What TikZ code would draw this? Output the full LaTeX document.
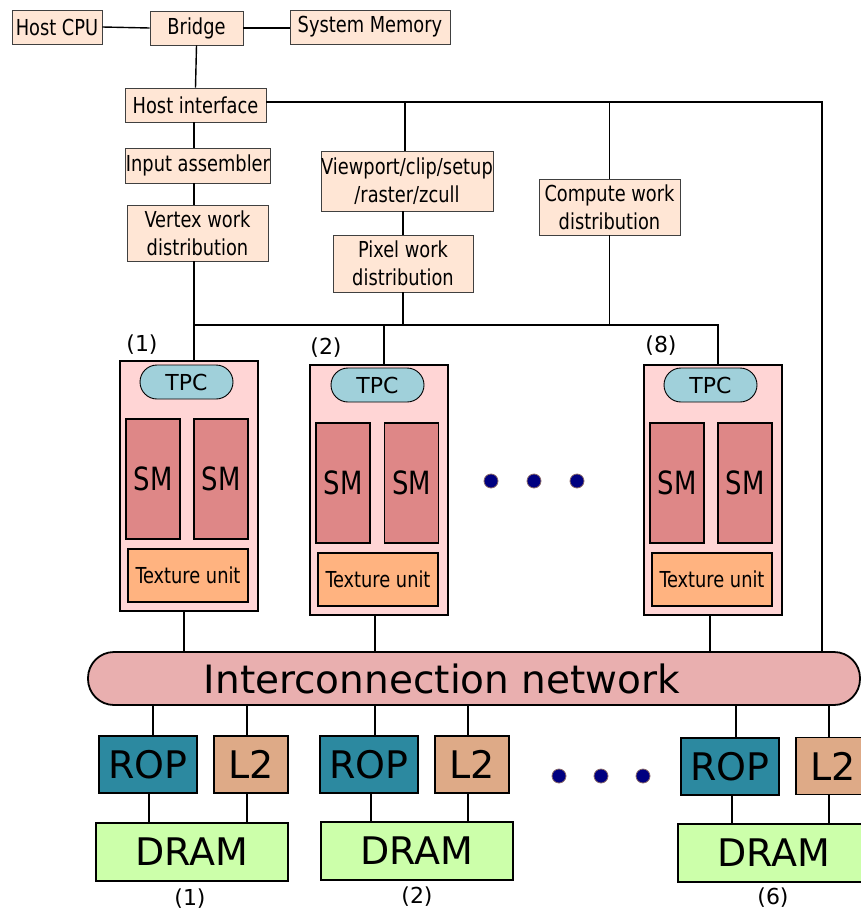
\documentclass[tikz,border=0pt]{standalone}
\usepackage{fontspec}
\setmainfont{DejaVu Sans}
\newfontfamily\cond[FakeStretch=0.9]{DejaVu Sans Condensed}
\definecolor{peach}{HTML}{FFE6D5}
\definecolor{blkfill}{HTML}{FFD5D5}
\definecolor{tpcfill}{HTML}{A0D0DA}
\definecolor{smfill}{HTML}{DE8787}
\definecolor{texfill}{HTML}{FFB380}
\definecolor{icnfill}{HTML}{E9AFAF}
\definecolor{ropfill}{HTML}{2C89A0}
\definecolor{l2fill}{HTML}{DEAA87}
\definecolor{dramfill}{HTML}{CCFFAA}
\definecolor{dotfill}{HTML}{000080}
\definecolor{dotedge}{HTML}{8A6A6A}
\begin{document}
\begin{tikzpicture}[x=1pt,y=-1pt,
  pbox/.style={draw=black!75, line width=0.9pt, fill=peach, inner sep=0pt, align=center,
    font=\cond\fontsize{22}{28}\selectfont},
  blkbox/.style={draw=black, line width=1.8pt, fill=blkfill, minimum width=138, minimum height=250, inner sep=0pt},
  tpcbox/.style={draw=black, line width=0.9pt, fill=tpcfill, rounded corners=17pt, minimum width=93, minimum height=34, inner sep=0pt,
    font=\fontsize{22}{22}\selectfont},
  smbox/.style={draw=black, line width=1.6pt, fill=smfill, minimum width=54, minimum height=120, inner sep=0pt,
    font=\cond\fontsize{32}{32}\selectfont},
  texbox/.style={draw=black, line width=1.6pt, fill=texfill, minimum width=120, minimum height=53, inner sep=0pt,
    font=\cond\fontsize{22}{22}\selectfont},
  ropbox/.style={draw=black, line width=1.6pt, fill=ropfill, minimum width=98, minimum height=57, inner sep=0pt,
    font=\fontsize{38}{38}\selectfont},
  ltwobox/.style={draw=black, line width=1.6pt, fill=l2fill, minimum width=74, minimum height=57, inner sep=0pt,
    font=\fontsize{38}{38}\selectfont},
  drambox/.style={draw=black, line width=2.2pt, fill=dramfill, minimum width=192, minimum height=58, inner sep=0pt,
    font=\fontsize{38}{38}\selectfont},
  numlbl/.style={inner sep=0pt, font=\fontsize{22}{22}\selectfont},
  dotnode/.style={circle, fill=dotfill, draw=dotedge, line width=0.8pt, minimum size=14, inner sep=0pt},
  conn/.style={line width=1.4pt}
]
\useasboundingbox (0,0) rectangle (861,913);

% top boxes
\node[pbox, minimum width=90, minimum height=34] (cpu) at (57,27) {Host CPU};
\node[pbox, minimum width=93, minimum height=34] (bridge) at (196.5,28) {Bridge};
\node[pbox, minimum width=160, minimum height=34] (sysmem) at (370,27) {System Memory};
\node[pbox, minimum width=141, minimum height=34] (hi) at (195.5,105) {Host interface};
\node[pbox, minimum width=140, minimum height=35] (ia) at (198,165.5) {Input assembler};
\node[pbox, minimum width=141, minimum height=56] (vwd) at (197.5,233) {Vertex work\\distribution};
\node[pbox, minimum width=172, minimum height=60] (vp) at (407,181) {Viewport/clip/setup\\/raster/zcull};
\node[pbox, minimum width=140, minimum height=57] (pwd) at (403,263.5) {Pixel work\\distribution};
\node[pbox, minimum width=141, minimum height=56] (cwd) at (609.5,207) {Compute work\\distribution};

% TPC blocks
\node[blkbox] (blk1) at (189,486) {};
\node[tpcbox] (tpc1) at (186.5,382) {TPC};
\node[smbox] (sm11) at (153,479) {SM};
\node[smbox] (sm12) at (221,479) {SM};
\node[texbox] (tex1) at (188,575.5) {Texture unit};

\node[blkbox] (blk2) at (379,490) {};
\node[tpcbox] (tpc2) at (377.5,385) {TPC};
\node[smbox] (sm21) at (343,483) {SM};
\node[smbox] (sm22) at (411.5,483) {SM};
\node[texbox] (tex2) at (378,579.5) {Texture unit};

\node[blkbox] (blk8) at (713,490) {};
\node[tpcbox] (tpc8) at (710.5,385) {TPC};
\node[smbox] (sm81) at (677,483) {SM};
\node[smbox] (sm82) at (745,483) {SM};
\node[texbox] (tex8) at (712,579.5) {Texture unit};

\node[numlbl] (n1) at (142,345) {(1)};
\node[numlbl] (n2) at (326,348) {(2)};
\node[numlbl] (n8) at (661,346) {(8)};

\node[dotnode] (da) at (491,481) {};
\node[dotnode] (db) at (534,481) {};
\node[dotnode] (dc) at (577,481) {};

% interconnect
\node[draw=black, line width=1.8pt, fill=icnfill, rounded corners=26pt, minimum width=772, minimum height=53, inner sep=0pt,
  label={[xshift=-32pt, font=\fontsize{39}{39}\selectfont]center:Interconnection network}] (icn) at (474,678.5) {};

% memory partitions
\node[ropbox] (rop1) at (148,764.5) {ROP};
\node[ltwobox] (l21) at (251,764.5) {L2};
\node[drambox] (dram1) at (192,852) {DRAM};
\node[ropbox] (rop2) at (369,764.5) {ROP};
\node[ltwobox] (l22) at (472,764.5) {L2};
\node[drambox] (dram2) at (417,851) {DRAM};
\node[ropbox] (rop6) at (730,766.5) {ROP};
\node[ltwobox] (l26) at (833,766) {L2};
\node[drambox] (dram6) at (774,853) {DRAM};

\node[numlbl] (m1) at (190,899) {(1)};
\node[numlbl] (m2) at (417,897) {(2)};
\node[numlbl] (m6) at (773,898) {(6)};

\node[dotnode] (de) at (559,776) {};
\node[dotnode] (df) at (601,776) {};
\node[dotnode] (dg) at (643,776) {};

% connectors
\coordinate (hr) at (822,0);
\coordinate (bus) at (0,325);
\coordinate (vx) at (194,0);
\coordinate (hiE) at ([yshift=3pt]hi.east);
\coordinate (vpN) at ([xshift=-2pt]vp.north);
\coordinate (t2) at ([xshift=5pt]blk2.north);
\coordinate (t8) at ([xshift=5pt]blk8.north);
\draw[conn] (cpu.east) -- (bridge.west);
\draw[conn] (bridge.east) -- (bridge.east -| sysmem.west);
\draw[conn] (bridge.south) -- (hi.north);
\draw[conn] (hiE) -- (hiE -| hr) -- (hr |- icn.north);
\draw[conn] (vpN |- hiE) -- (vpN);
\draw[conn] (cwd.north |- hiE) -- (cwd.north);
\draw[conn] (hi.south -| vx) -- (ia.north -| vx);
\draw[conn] (ia.south -| vx) -- (vwd.north -| vx);
\draw[conn] (vwd.south -| vx) -- (blk1.north -| vx);
\draw[conn] (vp.south -| pwd.north) -- (pwd.north);
\draw[conn] (vx |- bus) -- (t8 |- bus) -- (t8);
\draw[conn] (pwd.south) -- (pwd.south |- bus);
\draw[conn] (cwd.south) -- (cwd.south |- bus);
\draw[conn] (t2 |- bus) -- (t2);

\foreach \b/\s in {blk1/-5, blk2/-4, blk8/-3} {
  \coordinate (bs) at ([xshift=\s pt]\b.south);
  \draw[conn] (bs) -- (bs |- icn.north);
}

\foreach \r/\l/\d/\ru/\rd in {rop1/l21/dram1/5/1, rop2/l22/dram2/6/2, rop6/l26/dram6/6/2} {
  \coordinate (ru) at ([xshift=\ru pt]\r.north);
  \coordinate (rd) at ([xshift=\rd pt]\r.south);
  \coordinate (lu) at ([xshift=-4pt]\l.north);
  \coordinate (ld) at ([xshift=-4pt]\l.south);
  \draw[conn] (ru |- icn.south) -- (ru);
  \draw[conn] (lu |- icn.south) -- (lu);
  \draw[conn] (rd) -- (rd |- \d.north);
  \draw[conn] (ld) -- (ld |- \d.north);
}
\end{tikzpicture}
\end{document}
